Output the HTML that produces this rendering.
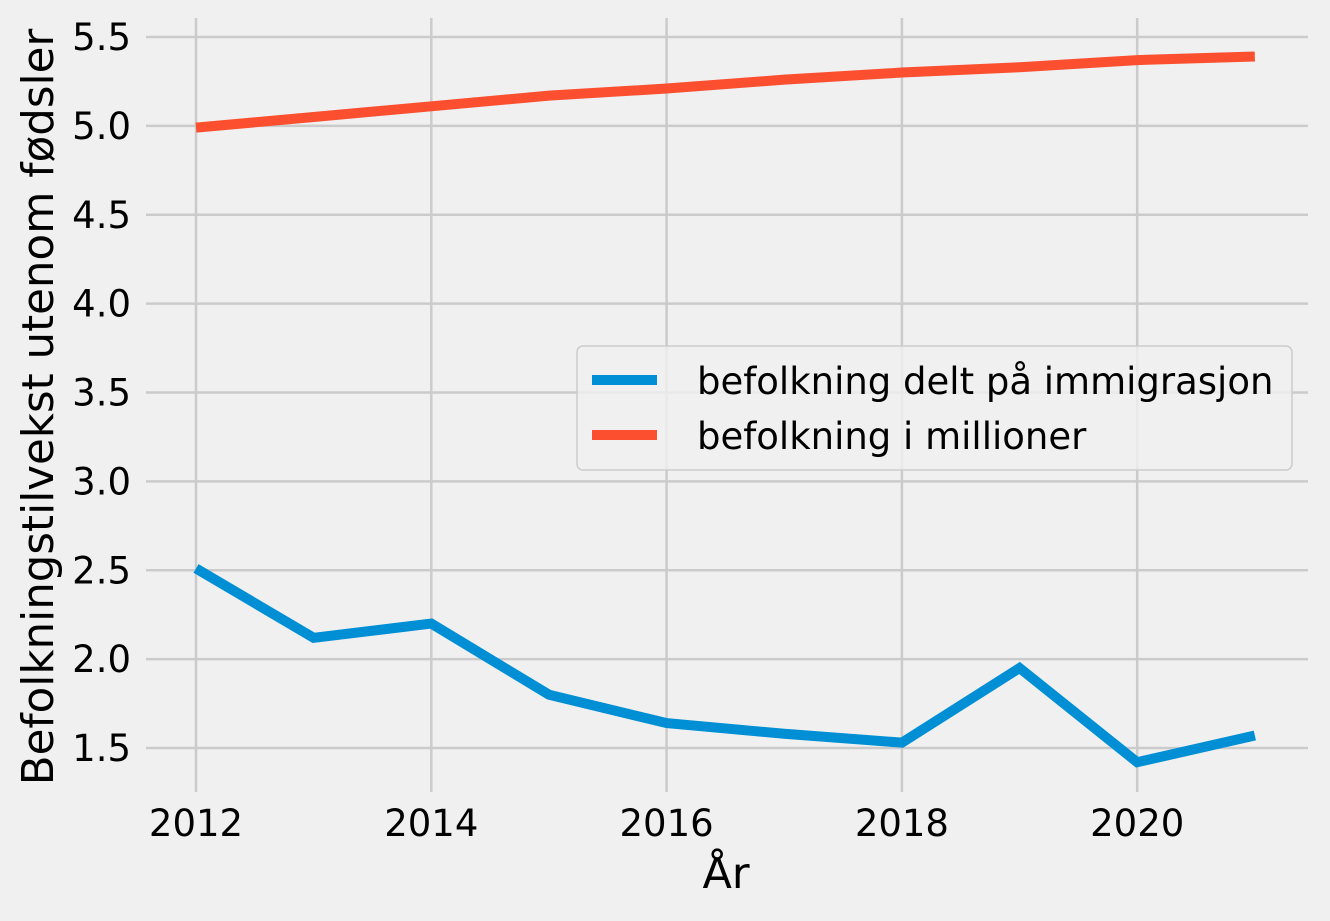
<!DOCTYPE html>
<html><head><meta charset="utf-8"><style>
body{margin:0;background:#f0f0f0;}
svg text{font-family:"DejaVu Sans","Liberation Sans",sans-serif;fill:#000;}
</style></head><body>
<svg id="chart" width="1330" height="916" xmlns="http://www.w3.org/2000/svg">
<rect width="1330" height="916" fill="#f0f0f0"/>
<g id="grid"></g><g id="ticks"></g><g id="lines"></g>
<text x="726" y="888" font-size="43" text-anchor="middle">År</text>
<text transform="translate(53,407) rotate(-90)" font-size="43.5" text-anchor="middle">Befolkningstilvekst utenom fødsler</text>
<g>
<rect x="577" y="346" width="715" height="124" rx="6" fill="#f0f0f0" fill-opacity="0.8" stroke="#cccccc" stroke-width="1.5"/>
<line x1="592" y1="380" x2="657" y2="380" stroke="#008fd5" stroke-width="10"/>
<text x="697" y="394" font-size="37">befolkning delt på immigrasjon</text>
<line x1="592" y1="435" x2="657" y2="435" stroke="#fc4f30" stroke-width="10"/>
<text x="697" y="449" font-size="37">befolkning i millioner</text>
</g>
</svg>
<script>
const years=[2012,2013,2014,2015,2016,2017,2018,2019,2020,2021];
const immigration=[2.51,2.12,2.20,1.80,1.64,1.58,1.53,1.95,1.42,1.57];
const population=[4.99,5.05,5.11,5.17,5.21,5.26,5.30,5.33,5.37,5.39];
const xTicks=[2012,2014,2016,2018,2020];
const yTicks=[1.5,2.0,2.5,3.0,3.5,4.0,4.5,5.0,5.5];
const X=v=>196+(v-2012)*117.65;
const Y=v=>748-(v-1.5)*177.75;
const NS="http://www.w3.org/2000/svg";
function mk(tag,attrs,parent){const e=document.createElementNS(NS,tag);for(const k in attrs)e.setAttribute(k,attrs[k]);document.getElementById(parent).appendChild(e);return e;}
yTicks.forEach(t=>{
 const l=mk('line',{x1:146,x2:1308,y1:Y(t),y2:Y(t),stroke:'#cbcbcb','stroke-width':2.5},'grid');
 
 
 const tx=mk('text',{x:131,y:Y(t)+13,'font-size':37,'text-anchor':'end'},'ticks');
 tx.textContent=t.toFixed(1);
 
 
});
xTicks.forEach(t=>{
 const l=mk('line',{x1:X(t),x2:X(t),y1:18,y2:792,stroke:'#cbcbcb','stroke-width':2.5},'grid');
 
 
 const tx=mk('text',{x:X(t),y:836,'font-size':37,'text-anchor':'middle'},'ticks');
 tx.textContent=t;
 
 
});
function series(vals,color,name){
 const p=mk('polyline',{points:years.map((y,i)=>X(y)+','+Y(vals[i])).join(' '),fill:'none',stroke:color,'stroke-width':10},'lines');
 
 
}
series(immigration,'#008fd5','immigration-line');
series(population,'#fc4f30','population-line');
</script>
</body></html>
